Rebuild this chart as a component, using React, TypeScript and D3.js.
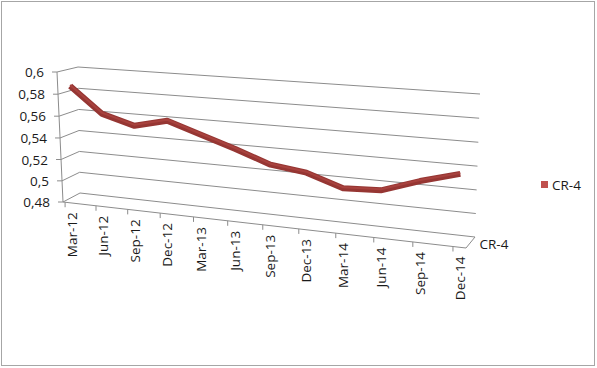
import React from 'react';
import * as d3 from 'd3';

const categories = ['Mar-12', 'Jun-12', 'Sep-12', 'Dec-12', 'Mar-13', 'Jun-13', 'Sep-13', 'Dec-13', 'Mar-14', 'Jun-14', 'Sep-14', 'Dec-14'];
const values = [0.585, 0.5615, 0.553, 0.56, 0.55, 0.54, 0.529, 0.525, 0.5145, 0.516, 0.527, 0.536];
const yTicks = [0.48, 0.5, 0.52, 0.54, 0.56, 0.58, 0.6];
const yTickLabels = ['0,48', '0,5', '0,52', '0,54', '0,56', '0,58', '0,6'];
const seriesName = 'CR-4';

type Pt = [number, number];

function homography(q: Pt[]) {
  const [[x0, y0], [x1, y1], [x2, y2], [x3, y3]] = q;
  const sx = x0 - x1 + x2 - x3;
  const sy = y0 - y1 + y2 - y3;
  const dx1 = x1 - x2, dx2 = x3 - x2, dy1 = y1 - y2, dy2 = y3 - y2;
  const den = dx1 * dy2 - dx2 * dy1;
  const g = (sx * dy2 - dx2 * sy) / den;
  const h = (dx1 * sy - sx * dy1) / den;
  const a = x1 - x0 + g * x1, b = x3 - x0 + h * x3, c = x0;
  const d = y1 - y0 + g * y1, e = y3 - y0 + h * y3, f = y0;
  return (u: number, v: number): Pt => {
    const w = g * u + h * v + 1;
    return [(a * u + b * v + c) / w, (d * u + e * v + f) / w];
  };
}

// quads: left-top, right-top, right-bottom, left-bottom
const front = homography([[57, 72], [473, 98], [466, 248], [63, 202]]);
const back = homography([[78, 67], [480, 94], [475, 237], [80, 193]]);

function P(u: number, v: number, z: number): Pt {
  const a = front(u, v);
  const b = back(u, v);
  return [a[0] + (b[0] - a[0]) * z, a[1] + (b[1] - a[1]) * z];
}

const xScale = d3.scalePoint<string>().domain(categories).range([0.006, 0.972]);
const yScale = d3.scaleLinear().domain([0.48, 0.6]).range([1, 0]);

const FONT = '"Open Sans", sans-serif';
const GRID = '#8c8c8c';
const FS = 13.5;

export default function App() {
  const line = d3.line<Pt>().x((d) => d[0]).y((d) => d[1]);
  const pts: Pt[] = categories.map((c, i) => P(xScale(c) as number, yScale(values[i]), 0.5));
  const seg = (a: Pt, b: Pt) => `M${a[0]},${a[1]}L${b[0]},${b[1]}`;

  const depthA = P(1, 1, 0);
  const depthB = P(1, 1, 1);

  return (
    <svg width={597} height={368} style={{ position: 'absolute', left: 0, top: 0, background: '#fff' }}>
      <rect x={1.5} y={1.5} width={593} height={364} fill="#fff" stroke="#a6a6a6" strokeWidth={1} />
      {yTicks.map((t) => (
        <path key={'g' + t} d={seg(P(0, yScale(t), 1), P(1, yScale(t), 1))} stroke={GRID} strokeWidth={1} fill="none" />
      ))}
      {yTicks.map((t) => (
        <path key={'s' + t} d={seg(P(0, yScale(t), 0), P(0, yScale(t), 1))} stroke={GRID} strokeWidth={1} fill="none" />
      ))}
      <path d={seg(P(0, 0, 0), P(0, 1, 0))} stroke={GRID} strokeWidth={1} fill="none" />
      {yTicks.map((t, i) => {
        const p = P(0, yScale(t), 0);
        return (
          <g key={'yt' + t}>
            <path d={seg([p[0] - 5, p[1]], p)} stroke={GRID} strokeWidth={1} />
            <text x={p[0] - 13} y={p[1]} textAnchor="end" dominantBaseline="central" fontFamily={FONT} fontSize={FS} fill="#1a1a1a">
              {yTickLabels[i]}
            </text>
          </g>
        );
      })}
      <path d={seg(P(0, 1, 0), P(1, 1, 0))} stroke={GRID} strokeWidth={1} fill="none" />
      <path d={seg(depthA, depthB)} stroke={GRID} strokeWidth={1} fill="none" />
      {categories.map((c) => {
        const p = P(xScale(c) as number, 1, 0);
        return (
          <g key={'xt' + c}>
            <path d={seg(p, [p[0], p[1] + 5])} stroke={GRID} strokeWidth={1} />
            <text
              transform={`translate(${p[0] + 7},${p[1] + 10}) rotate(-90)`}
              textAnchor="end"
              dominantBaseline="central"
              fontFamily={FONT}
              fontSize={FS}
              fill="#1a1a1a"
            >
              {c}
            </text>
          </g>
        );
      })}
      <text
        x={(depthA[0] + depthB[0]) / 2 + 9}
        y={(depthA[1] + depthB[1]) / 2 + 1.5}
        dominantBaseline="central"
        fontFamily={FONT}
        fontSize={FS}
        fill="#1a1a1a"
      >
        {seriesName}
      </text>
      <path d={line(pts) || ''} fill="none" stroke="#963633" strokeWidth={6} strokeLinejoin="round" strokeLinecap="butt" />
      <path d={line(pts) || ''} fill="none" stroke="#a8423e" strokeWidth={2} strokeLinejoin="round" transform="translate(0,-1)" />
      <rect x={541} y={181} width={7} height={7} fill="#c0504d" />
      <text x={552} y={185} dominantBaseline="central" fontFamily={FONT} fontSize={FS} fill="#1a1a1a">
        {seriesName}
      </text>
    </svg>
  );
}
